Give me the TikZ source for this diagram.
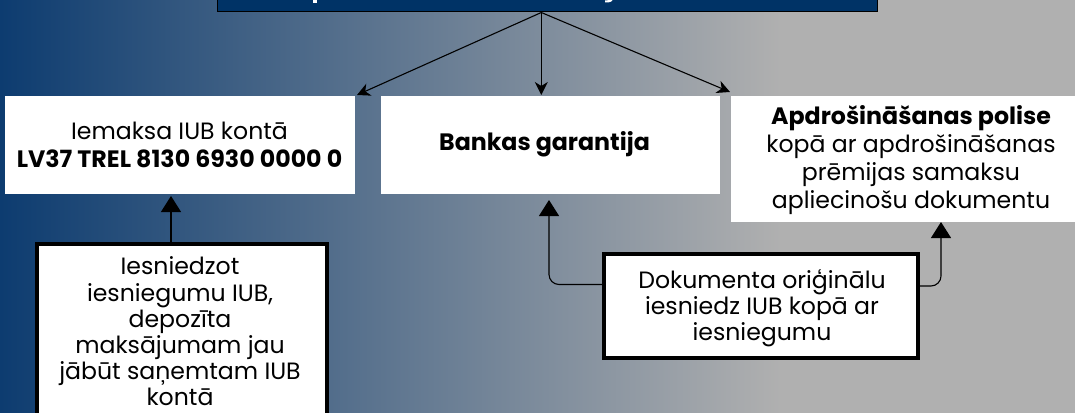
\documentclass[tikz,border=0pt]{standalone}
\usepackage{fontspec}
\setmainfont{Poppins}
\usetikzlibrary{arrows.meta}
\definecolor{bgA}{RGB}{13,60,112}
\definecolor{bgC}{RGB}{176,176,176}
\definecolor{topblue}{RGB}{0,51,102}
\pgfdeclarehorizontalshading{bggrad}{100bp}{
  color(0bp)=(bgA); color(25bp)=(bgA); color(61.3bp)=(bgC); color(100bp)=(bgC)}
\newcommand{\boldtxt}[1]{{\fontsize{23.7}{28}\selectfont\bfseries #1}}
\tikzset{x=1pt,y=-1pt,
  whitebox/.style={fill=white,draw=none,inner sep=0pt,outer sep=0pt},
  framebox/.style={fill=white,draw=black,line width=4pt,inner sep=0pt,outer sep=0pt},
  wtext/.style={inner sep=0pt,align=center,font=\fontsize{23.6}{28}\selectfont},
  ftext/.style={inner sep=0pt,align=center,font=\fontsize{23.6}{26.2}\selectfont},
  conn/.style={draw=black,line width=1.1pt},
  bigarr/.style={conn,rounded corners=10pt,-{Triangle[length=16pt,width=20pt]}},
  smallarr/.style={conn,-{Stealth[length=13pt,width=13pt,inset=4pt]}}
}
\begin{document}
\begin{tikzpicture}
\useasboundingbox (0,0) rectangle (1075,412);
\node[shading=bggrad,shading angle=0,minimum width=1075pt,minimum height=412pt,inner sep=0pt,outer sep=0pt,anchor=north west] (bg) at (0,0) {};
\node[fill=topblue,draw=black,line width=1pt,anchor=north west,minimum width=660pt,minimum height=22pt,inner sep=0pt,outer sep=0pt] (top) at (217,-10) {};
\fill[white] (313,0) rectangle (317,3);
\fill[white] (605,2.5) -- (608,2.5) .. controls (611,2.5) and (612,1) .. (612.5,0) -- (608,0) .. controls (608,0.5) and (607.5,0.5) .. (605,0.5) -- cycle;
\node[whitebox,minimum width=350pt,minimum height=98pt,anchor=north west] (a) at (5,96) {};
\node[whitebox,minimum width=339pt,minimum height=98pt,anchor=north west] (b) at (381,96) {};
\node[whitebox,minimum width=344pt,minimum height=126pt,anchor=north west] (c) at (731,96) {};
\node[framebox,minimum width=290pt,minimum height=175pt,anchor=north west] (d) at (37,244) {};
\node[framebox,minimum width=314pt,minimum height=104pt,anchor=north west] (e) at (604,254) {};
\node[wtext] (at) at (179.5,145) {Iemaksa IUB kontā\\{\spaceskip=5.1pt\boldtxt{LV37 TREL 8130 6930 0000 0}}};
\node[wtext] (bt) at (544.5,144) {\boldtxt{Bankas garantija}};
\node[wtext] (ct) at (911,160) {\boldtxt{Apdrošināšanas polise}\\kopā ar apdrošināšanas\\prēmijas samaksu\\apliecinošu dokumentu};
\node[ftext] (dt) at (180,331.5) {Iesniedzot\\iesniegumu IUB,\\depozīta\\maksājumam jau\\jābūt saņemtam IUB\\kontā};
\node[ftext] (et) at (762,308.5) {Dokumenta oriģinālu\\iesniedz IUB kopā ar\\iesniegumu};
\coordinate (apex) at (541.3,12.5);
\coordinate (ta) at (357,95);
\coordinate (tb) at (541.3,95);
\coordinate (tc) at (730,92);
\coordinate (ua) at (171,196);
\coordinate (ub) at (549,200);
\coordinate (uc) at (941,222);
\draw[smallarr] (apex) -- (ta);
\draw[smallarr] (apex) -- (tb);
\draw[smallarr] (apex) -- (tc);
\draw[bigarr] (d.north -| ua) -- (ua);
\draw[bigarr] (e.west |- 0,284.5) -- (549,284.5) -- (ub);
\draw[bigarr] (e.east |- 0,286) -- (941,286) -- (uc);
\end{tikzpicture}
\end{document}
